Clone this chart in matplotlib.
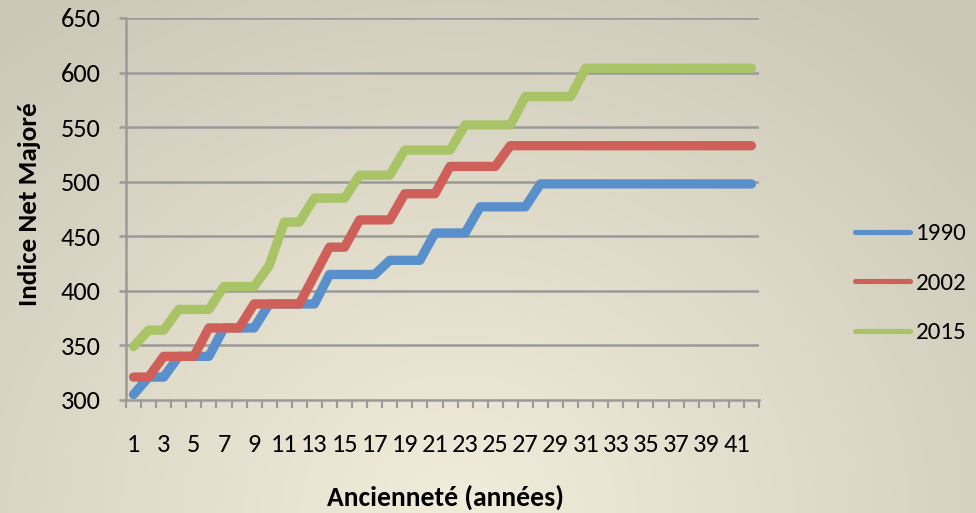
import numpy as np
import matplotlib
matplotlib.use("Agg")
import matplotlib.pyplot as plt
from matplotlib import font_manager as fm
from matplotlib.lines import Line2D

# ---- data ----
years = list(range(1, 43))
xticklabels = [str(i) if i % 2 == 1 else "" for i in years]
s1990 = [305, 321, 321, 340, 340, 340, 366, 366, 366, 388, 388, 388, 388, 415,
         415, 415, 415, 428, 428, 428, 453, 453, 453, 477, 477, 477, 477, 498,
         498, 498, 498, 498, 498, 498, 498, 498, 498, 498, 498, 498, 498, 498]
s2002 = [321, 321, 340, 340, 340, 366, 366, 366, 388, 388, 388, 388, 414, 440,
         440, 465, 465, 465, 489, 489, 489, 514, 514, 514, 514, 533, 533, 533,
         533, 533, 533, 533, 533, 533, 533, 533, 533, 533, 533, 533, 533, 533]
s2015 = [349, 364, 364, 383, 383, 383, 404, 404, 404, 423, 463, 463, 485, 485,
         485, 506, 506, 506, 529, 529, 529, 529, 552, 552, 552, 552, 578, 578,
         578, 578, 604, 604, 604, 604, 604, 604, 604, 604, 604, 604, 604, 604]
series_names = ["1990", "2002", "2015"]
yticks = [300, 350, 400, 450, 500, 550, 600, 650]
colors = ["#598fcb", "#ce6059", "#a8c466"]

# ---- fonts ----
avail = {f.name for f in fm.fontManager.ttflist}
font = "DejaVu Sans"
for cand in ["Carlito", "Lato", "Open Sans"]:
    if cand in avail:
        font = cand
        break
plt.rcParams["font.family"] = [font, "DejaVu Sans"]

W, H = 976, 513
fig = plt.figure(figsize=(W / 100, H / 100), dpi=100)

# background radial gradient
bg = fig.add_axes([0, 0, 1, 1], zorder=-10)
yy, xx = np.mgrid[0:H, 0:W]
r = np.sqrt(((xx - 0.47 * W) / (0.75 * W)) ** 2 + ((yy - 1.0 * H) / (1.25 * H)) ** 2)
t = np.clip(r / 1.0, 0, 1)[..., None]
light = np.array([242, 237, 219]) / 255.0
dark = np.array([203, 199, 182]) / 255.0
img = light * (1 - t) + dark * t
bg.imshow(img, aspect="auto", extent=[0, 1, 0, 1], origin="upper")
bg.axis("off")

ax = fig.add_axes([126 / W, 1 - 400 / H, (759 - 126) / W, (400 - 18) / H])
ax.patch.set_alpha(0)

grid_c = "#9a9a9a"
for vals, c, name in zip([s1990, s2002, s2015], colors, series_names):
    ax.plot(years, vals, color=c, lw=6.7, solid_joinstyle="round",
            solid_capstyle="round", clip_on=False, label=name, zorder=3)

ax.set_xlim(0.5, 42.5)
ax.set_ylim(300, 650)
ax.set_yticks(yticks)
ax.set_yticklabels([str(v) for v in yticks])
ax.set_xticks(years)
ax.set_xticklabels(xticklabels)
ax.set_xticks(np.arange(0.5, 43, 1.0), minor=True)
for v in yticks[1:]:
    ax.axhline(v, color=grid_c, lw=1.8, zorder=1)

for s in ["top", "right"]:
    ax.spines[s].set_visible(False)
for s in ["left", "bottom"]:
    ax.spines[s].set_color(grid_c)
    ax.spines[s].set_linewidth(1.8)
    ax.spines[s].set_zorder(2)

fs_tick = 19
ax.tick_params(axis="y", which="major", length=5, width=1.8, color=grid_c,
               pad=13.5, labelsize=fs_tick, labelcolor="black")
ax.tick_params(axis="x", which="major", length=0, pad=24, labelsize=fs_tick,
               labelcolor="black")
ax.tick_params(axis="x", which="minor", length=6, width=1.5, color=grid_c)

# axis titles
ylab = fig.text(30 / W, 1 - 204 / H, "Indice Net Majoré", rotation=90,
                ha="center", va="center", fontsize=14, fontweight="bold")
xlab = fig.text(445 / W, 1 - 497 / H, "Ancienneté (années)", ha="center",
                va="center", fontsize=16, fontweight="bold")

fig.canvas.draw()
rend = fig.canvas.get_renderer()
def fit(txt, target, vertical=False):
    bb = txt.get_window_extent(rend)
    cur = bb.height if vertical else bb.width
    txt.set_fontsize(txt.get_fontsize() * target / cur)
fit(ylab, 204, vertical=True)
fit(xlab, 236)

handles = [Line2D([], [], color=c, lw=3.7, solid_capstyle="round") for c in colors]
fs_leg = 18
leg = fig.legend(handles, series_names, loc="center left",
                 bbox_to_anchor=(855 / W, 1 - 283 / H), frameon=False,
                 fontsize=fs_leg, handlelength=55 / (fs_leg * 100 / 72),
                 handletextpad=6 / (fs_leg * 100 / 72), borderpad=0,
                 borderaxespad=0, labelspacing=1.12)

fig.savefig("out.png", dpi=100)
